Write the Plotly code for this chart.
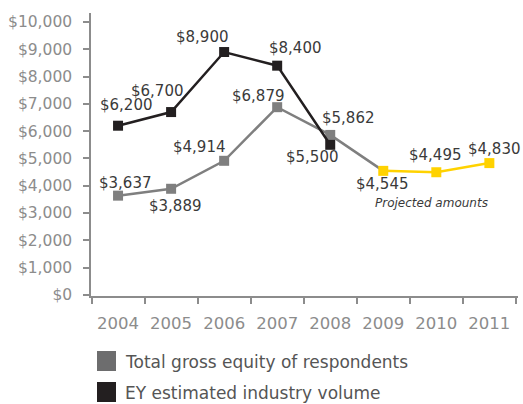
import plotly.graph_objects as go

years = ["2004", "2005", "2006", "2007", "2008", "2009", "2010", "2011"]

# Total gross equity of respondents (2004-2008 actual)
equity_years = ["2004", "2005", "2006", "2007", "2008"]
equity = [3637, 3889, 4914, 6879, 5862]

# EY estimated industry volume
volume_years = ["2004", "2005", "2006", "2007", "2008"]
volume = [6200, 6700, 8900, 8400, 5500]

# Projected amounts
proj_years = ["2009", "2010", "2011"]
projected = [4545, 4495, 4830]

y_ticks = [0, 1000, 2000, 3000, 4000, 5000, 6000, 7000, 8000, 9000, 10000]
y_tick_text = ["$0", "$1,000", "$2,000", "$3,000", "$4,000", "$5,000",
               "$6,000", "$7,000", "$8,000", "$9,000", "$10,000"]

GRAY = "#7f7f7f"
BLACK = "#231f20"
YELLOW = "#ffd200"
AXIS = "#8c8c8c"
LABEL = "#3a3a3a"
FONT = "DejaVu Sans"

fig = go.Figure()

# gray line continues into the first projected year
fig.add_trace(go.Scatter(
    x=equity_years + proj_years[:1], y=equity + projected[:1],
    mode="lines", line=dict(color=GRAY, width=2.5), showlegend=False,
    hoverinfo="skip"))
fig.add_trace(go.Scatter(
    x=equity_years, y=equity, mode="markers",
    marker=dict(symbol="square", size=10, color=GRAY),
    showlegend=False))
fig.add_trace(go.Scatter(
    x=volume_years, y=volume, mode="lines+markers",
    line=dict(color=BLACK, width=2.5),
    marker=dict(symbol="square", size=10, color=BLACK),
    showlegend=False))
fig.add_trace(go.Scatter(
    x=proj_years, y=projected, mode="lines+markers",
    line=dict(color=YELLOW, width=2.5),
    marker=dict(symbol="square", size=10, color=YELLOW),
    showlegend=False))

# value labels: (xshift, yshift) per point
label_offsets = {
    "volume": [(8, 21), (-14, 21), (-22, 15), (18, 18), (-18, -12)],
    "equity": [(7, 13), (4, -17), (-25, 14), (-19, 11), (18, 17)],
    "proj": [(-1, -13), (-1, 17), (5, 14)],
}
series = [
    (volume_years, volume, label_offsets["volume"]),
    (equity_years, equity, label_offsets["equity"]),
    (proj_years, projected, label_offsets["proj"]),
]
for xs, vals, offs in series:
    for x, v, (dx, dy) in zip(xs, vals, offs):
        fig.add_annotation(
            x=years.index(x), y=v, text=f"${v:,}", showarrow=False,
            xshift=dx, yshift=dy,
            font=dict(family=FONT, size=15, color=LABEL))

fig.add_annotation(
    x=years.index("2010"), y=projected[1], text="<i>Projected amounts</i>",
    showarrow=False, xshift=-5, yshift=-31,
    font=dict(family=FONT, size=12, color=LABEL))

# legend swatches and labels
legend_items = [("Total gross equity of respondents", "#6d6d6e"),
                ("EY estimated industry volume", BLACK)]
for i, (name, color) in enumerate(legend_items):
    top = 351 + i * 31
    fig.add_shape(type="rect", xref="paper", yref="paper",
                  x0=(97 - 91) / 427, x1=(116 - 91) / 427,
                  y0=(296 - top) / 283, y1=(296 - top - 20) / 283,
                  line=dict(width=0), fillcolor=color)
    fig.add_annotation(xref="paper", yref="paper",
                       x=(123 - 91) / 427, y=(296 - top - 11) / 283,
                       xanchor="left", yanchor="middle", showarrow=False,
                       text=name, font=dict(family=FONT, size=17, color="#555555"))

fig.update_xaxes(
    type="category", categoryorder="array", categoryarray=years,
    range=[-0.51, 7.54], tickson="boundaries",
    showline=True, linecolor=AXIS, linewidth=1.5,
    ticks="outside", ticklen=6, tickcolor=AXIS, tickwidth=1.5,
    showgrid=False, zeroline=False, ticklabelstandoff=11,
    tickfont=dict(family=FONT, size=16.5, color=AXIS))
fig.update_yaxes(
    range=[-40, 10330], tickvals=y_ticks, ticktext=y_tick_text,
    showline=True, linecolor=AXIS, linewidth=1.5,
    ticks="outside", ticklen=6, tickcolor=AXIS, tickwidth=1.5,
    showgrid=False, zeroline=False, ticklabelstandoff=8,
    tickfont=dict(family=FONT, size=15.5, color=AXIS))

fig.update_layout(
    width=523, height=404,
    margin=dict(l=91, r=5, t=13, b=108),
    paper_bgcolor="white", plot_bgcolor="white",
    showlegend=False)

fig.write_html("out.html")
